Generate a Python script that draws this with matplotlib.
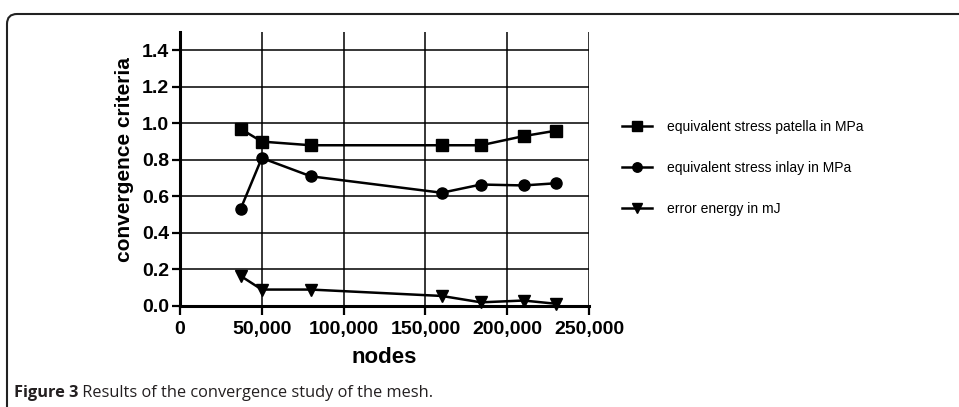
import numpy as np
import matplotlib
matplotlib.use('Agg')
import matplotlib.pyplot as plt
from matplotlib.patches import FancyBboxPatch
from matplotlib.ticker import FuncFormatter

## data
nodes = [37000, 50000, 80000, 160000, 184000, 210000, 230000]
stress_patella = [0.97, 0.90, 0.88, 0.88, 0.88, 0.93, 0.96]
stress_inlay = [0.53, 0.81, 0.71, 0.62, 0.665, 0.66, 0.672]
error_energy = [0.165, 0.09, 0.09, 0.055, 0.02, 0.03, 0.012]
labels = ["equivalent stress patella in MPa",
          "equivalent stress inlay in MPa",
          "error energy in mJ"]
x_ticks = [0, 50000, 100000, 150000, 200000, 250000]
y_ticks = [0.0, 0.2, 0.4, 0.6, 0.8, 1.0, 1.2, 1.4]

plt.rcParams['font.family'] = ['Liberation Sans', 'DejaVu Sans']

fig = plt.figure(figsize=(9.59, 4.07), dpi=100)
ax = fig.add_axes([180 / 959, 1 - 306 / 407, 409 / 959, 274 / 407])

ax.plot(nodes, stress_patella, '-s', color='black', lw=1.8, ms=8, label=labels[0], clip_on=False, zorder=5)
ax.plot(nodes, stress_inlay, '-o', color='black', lw=1.8, ms=8, label=labels[1], clip_on=False, zorder=5)
ax.plot(nodes, error_energy, '-v', color='black', lw=1.8, ms=8, label=labels[2], clip_on=False, zorder=5)

ax.set_xlim(0, 250000)
ax.set_ylim(0, 1.5)
ax.set_xticks(x_ticks)
ax.set_yticks(y_ticks)
ax.xaxis.set_major_formatter(FuncFormatter(lambda v, p: '{:,}'.format(int(v))))
ax.yaxis.set_major_formatter(FuncFormatter(lambda v, p: '%.1f' % v))
ax.grid(True, color='black', lw=1.1)
ax.set_axisbelow(True)

for s in ['top', 'right']:
    ax.spines[s].set_visible(False)
for s in ['left', 'bottom']:
    ax.spines[s].set_linewidth(2.2)
ax.tick_params(axis='both', direction='out', width=1.6, labelsize=14)
ax.tick_params(axis='x', length=6.5, pad=4.5)
ax.tick_params(axis='y', length=6, pad=2)
for t in ax.get_xticklabels() + ax.get_yticklabels():
    t.set_fontweight('bold')

ax.set_xlabel('nodes', fontsize=16, fontweight='bold', labelpad=6.5)
ax.set_ylabel('convergence criteria', fontsize=15, fontweight='bold')
ax.yaxis.set_label_coords(-0.113, (306 - 160) / 274)

leg = ax.legend(loc='upper left', bbox_to_anchor=(609 / 959, 1 - 107 / 407),
                bbox_transform=fig.transFigure, frameon=False, fontsize=10,
                handlelength=2.2, handletextpad=1.1, labelspacing=1.95,
                markerscale=0.85)

# rounded frame around the figure
frame = FancyBboxPatch((7, -30), 1000, 407 - 14 + 30,
                       boxstyle='round,pad=0,rounding_size=10',
                       transform=None, fill=False, ec='#222222', lw=1.5)
fig.add_artist(frame)

# caption
t1 = fig.text(14 / 959, 1 - 397 / 407, 'Figure 3', fontsize=11.8, fontweight='bold',
              family=['Open Sans', 'DejaVu Sans'], color='#231f20')
ax.annotate(' Results of the convergence study of the mesh.', xy=(1, 0), xycoords=t1,
            va='bottom', ha='left', fontsize=11.8, family=['Open Sans', 'DejaVu Sans'],
            color='#231f20', annotation_clip=False)

fig.savefig('out.png', dpi=100)
